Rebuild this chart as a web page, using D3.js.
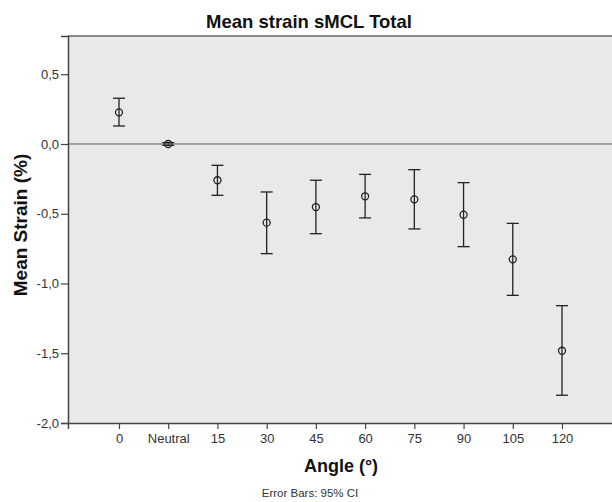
<!DOCTYPE html>
<html><head><meta charset="utf-8">
<script src="https://cdn.jsdelivr.net/npm/d3@7"></script>
<style>body{margin:0;background:#fff;}svg{display:block;font-family:"Liberation Sans",Arial,sans-serif;}</style>
</head><body>
<svg id="c" width="612" height="502"></svg>
<script>
const categories = ["0","Neutral","15","30","45","60","75","90","105","120"];
const means = [0.227, 0.0, -0.26, -0.564, -0.452, -0.375, -0.397, -0.507, -0.827, -1.482];
const upper = [0.328, 0.01, -0.153, -0.344, -0.26, -0.218, -0.184, -0.277, -0.569, -1.159];
const lower = [0.129, -0.01, -0.368, -0.786, -0.643, -0.530, -0.609, -0.736, -1.085, -1.801];
const yTicks = [0.5, 0.0, -0.5, -1.0, -1.5, -2.0];
const data = categories.map((c,i)=>({c, m:means[i], hi:upper[i], lo:lower[i]}));

const svg = d3.select("#c");
const L = 68, T = 36, R = 613, B = 423;
const x = d3.scalePoint().domain(categories).range([L, R]).padding(1.036);
const y = d3.scaleLinear().domain([-2.0, 0.774]).range([B, T]);

svg.append("rect").attr("x",L).attr("y",T).attr("width",R-L+5).attr("height",B-T)
  .attr("fill","#e9e9e9");
svg.append("line").attr("x1",L).attr("x2",R+5).attr("y1",T).attr("y2",T)
  .attr("stroke","#666").attr("stroke-width",1.5);

svg.append("line").attr("x1",L).attr("x2",R+5).attr("y1",y(0)).attr("y2",y(0))
  .attr("stroke","#555").attr("stroke-width",1);

const fmt = d => d3.format(".1f")(d).replace(".",",").replace("−","-");
const yAxis = svg.append("g").attr("transform",`translate(${L},0)`)
  .call(d3.axisLeft(y).tickValues(yTicks).tickFormat(fmt).tickSize(7).tickPadding(2));
yAxis.select(".domain").attr("stroke","#444").attr("stroke-width",1.5);
yAxis.selectAll(".tick line").attr("stroke","#444").attr("stroke-width",1.2);
yAxis.selectAll("text").attr("font-size",13).attr("fill","#333");

const xAxis = svg.append("g").attr("transform",`translate(0,${B})`)
  .call(d3.axisBottom(x).tickSize(6).tickPadding(5));
xAxis.select(".domain").attr("stroke","#444").attr("stroke-width",1.5);
xAxis.selectAll(".tick line").attr("stroke","#444").attr("stroke-width",1.2);
xAxis.selectAll("text").attr("font-size",13).attr("fill","#333");

const g = svg.append("g").attr("stroke","#222").attr("stroke-width",1.3).attr("fill","none");
const cap = 6;
data.forEach(d=>{
  const cx = x(d.c);
  g.append("line").attr("x1",cx).attr("x2",cx).attr("y1",y(d.hi)).attr("y2",y(d.lo));
  g.append("line").attr("x1",cx-cap).attr("x2",cx+cap).attr("y1",y(d.hi)).attr("y2",y(d.hi));
  g.append("line").attr("x1",cx-cap).attr("x2",cx+cap).attr("y1",y(d.lo)).attr("y2",y(d.lo));
  g.append("circle").attr("cx",cx).attr("cy",y(d.m)).attr("r",3.5).attr("fill","none");
});

svg.append("text").attr("x",309).attr("y",28).attr("text-anchor","middle")
  .attr("font-size",18.5).attr("font-weight","bold").attr("fill","#111").text("Mean strain sMCL Total");
svg.append("text").attr("x",341).attr("y",472).attr("text-anchor","middle")
  .attr("font-size",18).attr("font-weight","bold").attr("fill","#111").text("Angle (°)");
svg.append("text").attr("transform","translate(27,225) rotate(-90)").attr("text-anchor","middle")
  .attr("font-size",19).attr("font-weight","bold").attr("fill","#111").text("Mean Strain (%)");
svg.append("text").attr("x",310).attr("y",497).attr("text-anchor","middle")
  .attr("font-size",11.5).attr("fill","#333").text("Error Bars: 95% CI");
</script>
</body></html>
